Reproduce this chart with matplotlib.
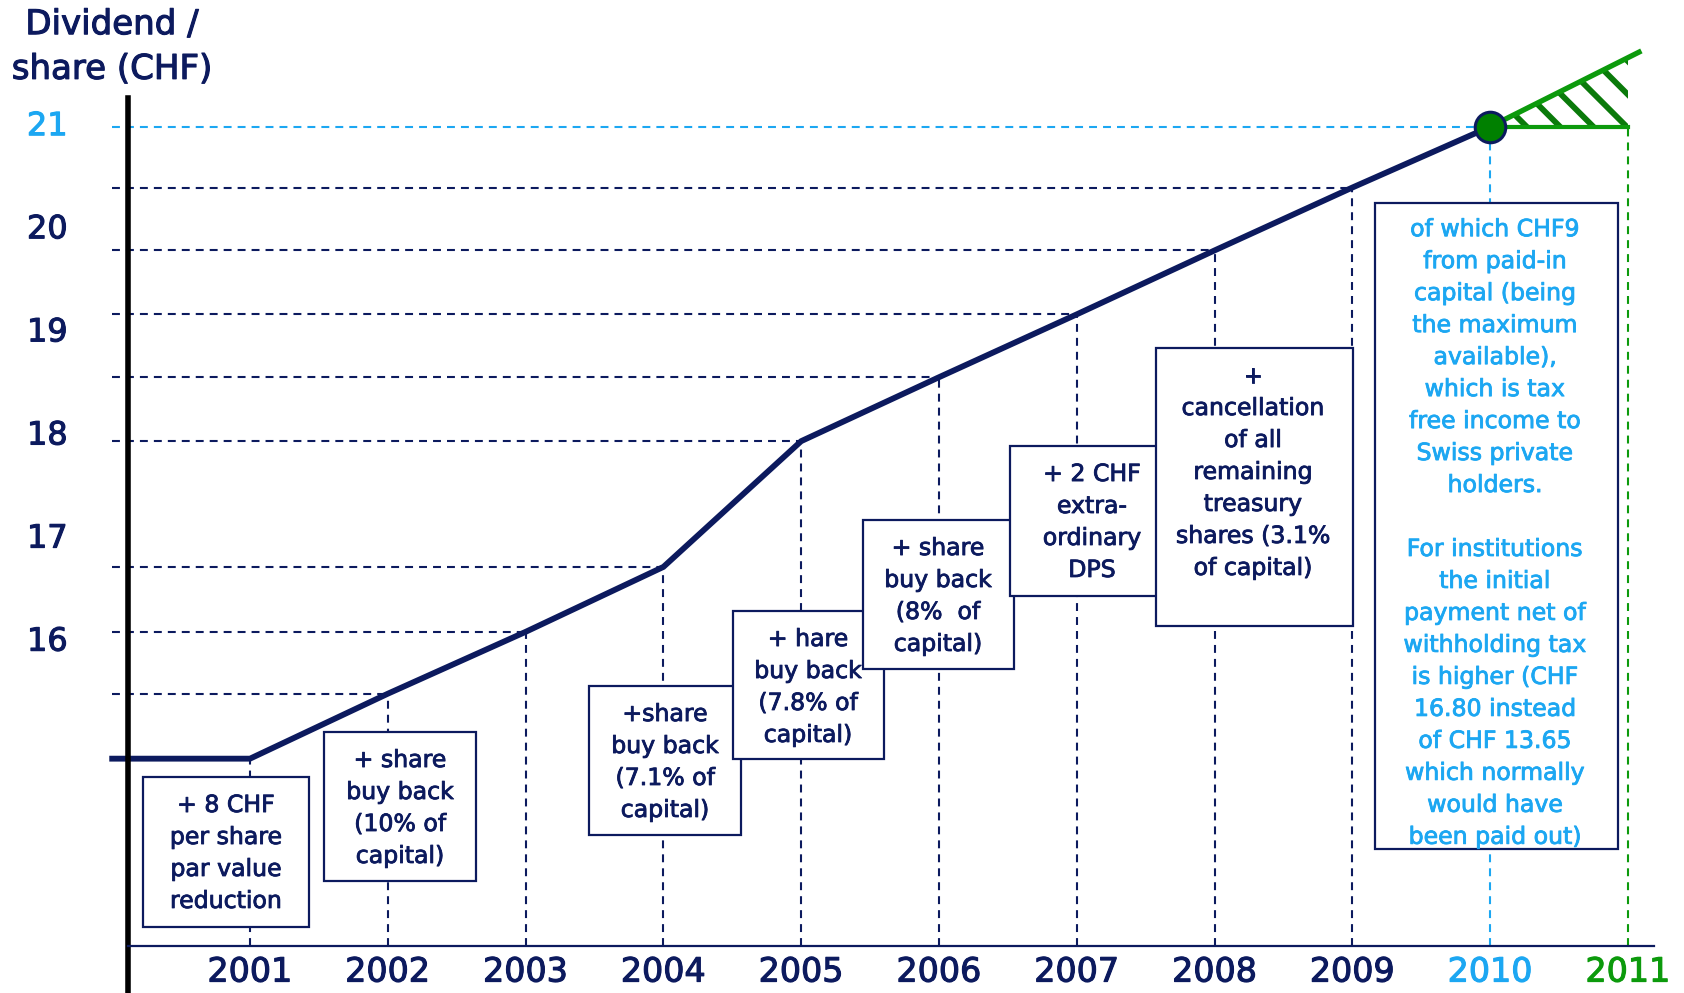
import matplotlib
matplotlib.use('Agg')
import matplotlib.pyplot as plt
import matplotlib.patheffects as pe
from matplotlib.patches import Rectangle, Polygon

# --- data ---
years = [2001, 2002, 2003, 2004, 2005, 2006, 2007, 2008, 2009, 2010]
dps = [14.87, 15.50, 16.10, 16.73, 17.95, 18.57, 19.18, 19.80, 20.41, 21.00]
flat_start = 2000          # flat segment before 2001
next_year = 2011
next_dps = 21.67           # green "upside" line at 2011
ytick_vals = [16, 17, 18, 19, 20, 21]
year_labels = [str(y) for y in years] + [str(next_year)]

axis_title = 'Dividend /\nshare (CHF)'
box_texts = [
    '+ 8 CHF\nper share\npar value\nreduction',
    '+ share\nbuy back\n(10% of\ncapital)',
    '+share\nbuy back\n(7.1% of\ncapital)',
    '+ hare\nbuy back\n(7.8% of\ncapital)',
    '+ share\nbuy back\n(8%  of\ncapital)',
    '+ 2 CHF\nextra-\nordinary\nDPS',
    '+\ncancellation\nof all\nremaining\ntreasury\nshares (3.1%\nof capital)',
]
note_text = ('of which CHF9\nfrom paid-in\ncapital (being\nthe maximum\navailable),\n'
             'which is tax\nfree income to\nSwiss private\nholders.\n\n'
             'For institutions\nthe initial\npayment net of\nwithholding tax\n'
             'is higher (CHF\n16.80 instead\nof CHF 13.65\nwhich normally\n'
             'would have\nbeen paid out)')

NAVY = '#0c1a5e'
LIGHT = '#1ca7f2'
GREEN = '#0c9a0c'
DKGREEN = '#0a7a0a'

W, H = 1684, 993
plt.rcParams['font.family'] = ['DejaVu Sans']
plt.rcParams['hatch.linewidth'] = 4.2

fig = plt.figure(figsize=(W / 100, H / 100), dpi=100)
ax = fig.add_axes([0, 0, 1, 1])
ax.set_xlim(1999.1858, 2011.4064)
ax.set_ylim(12.597, 22.229)
ax.axis('off')

x_axis_level = 13.056
y_axis_x = 2000.115


def fxy(px, py):
    # pixel position (top-left origin) -> figure fraction
    return px / W, 1 - py / H


def heavy(color, w=0.8):
    # thicken DejaVu a little so it looks like the original's heavier face
    return [pe.withStroke(linewidth=w, foreground=color)]


dash = (0, (3.8, 2.9))

# dashed guides
for y, v in zip(years[:-1], dps[:-1]):
    ax.plot([flat_start, y], [v, v], color=NAVY, lw=1.5, ls=dash, zorder=1)
    ax.plot([y, y], [x_axis_level, v], color=NAVY, lw=1.5, ls=dash, zorder=1)
ax.plot([flat_start, years[-1]], [dps[-1], dps[-1]], color=LIGHT, lw=1.5, ls=dash, zorder=1)
ax.plot([years[-1], years[-1]], [x_axis_level, dps[-1]], color=LIGHT, lw=1.5, ls=dash, zorder=1)
ax.plot([next_year, next_year], [x_axis_level, dps[-1]], color=GREEN, lw=1.5, ls=dash, zorder=1)

# main dividend line
ax.plot([flat_start] + years, [dps[0]] + dps, color=NAVY, lw=4.2, zorder=3,
        solid_joinstyle='miter')

# green upside wedge
slope = (next_dps - dps[-1]) / (next_year - years[-1])
ext = next_year + 0.08
ax.plot([years[-1], ext], [dps[-1], dps[-1] + slope * (ext - years[-1])], color=GREEN, lw=3.8, zorder=3)
ax.plot([years[-1], next_year], [dps[-1], dps[-1]], color=GREEN, lw=3.0, zorder=3)
wedge = Polygon([[years[-1], dps[-1]], [next_year, next_dps], [next_year, dps[-1]]],
                closed=True, fill=False, hatch='\\', edgecolor=DKGREEN, lw=0, zorder=2)
ax.add_patch(wedge)
ax.plot([years[-1]], [dps[-1]], 'o', ms=22, mfc='#008000', mec=NAVY, mew=2.2, zorder=6)

# axes
ax.plot([y_axis_x, y_axis_x], [12.597, 21.28], color='black', lw=4.0, zorder=4)
ax.plot([y_axis_x, 2011.19], [x_axis_level, x_axis_level], color=NAVY, lw=1.6, zorder=4)

for v in ytick_vals:
    c = LIGHT if v == 21 else NAVY
    ax.text(1999.53, v, str(v), ha='center', va='center', fontsize=23, color=c,
            path_effects=heavy(c))
for lab in year_labels:
    yr = int(lab)
    c = NAVY
    if yr == years[-1]:
        c = LIGHT
    elif yr == next_year:
        c = GREEN
    ax.text(yr, 12.80, lab, ha='center', va='center', fontsize=24, color=c,
            path_effects=heavy(c))

fig.text(*fxy(112, 47), axis_title, ha='center', va='center', fontsize=24.5,
         color=NAVY, linespacing=1.45, path_effects=heavy(NAVY))

# annotation boxes (pixel layout)
boxes = [(143, 777, 309, 927), (324, 732, 476, 881), (589, 686, 741, 835),
         (733, 611, 884, 759), (863, 520, 1014, 669), (1010, 446, 1157, 596),
         (1156, 348, 1353, 626)]
centers = [(226, 853), (400, 808), (665, 762), (808, 687), (938, 596),
           (1092, 522), (1253, 472)]

z = 7
for (x0, y0, x1, y1), (cx, cy), txt in zip(boxes, centers, box_texts):
    fx0, fy1 = fxy(x0, y1)
    fx1, fy0 = fxy(x1, y0)
    ax.add_patch(Rectangle((fx0, fy1), fx1 - fx0, fy0 - fy1, transform=fig.transFigure,
                           facecolor='white', edgecolor=NAVY, lw=1.6, zorder=z, clip_on=False))
    ax.text(*fxy(cx, cy), txt, transform=fig.transFigure, ha='center', va='center',
            fontsize=17, color=NAVY, linespacing=1.42, zorder=z + 1,
            path_effects=heavy(NAVY, 0.6))
    z += 2

fx0, fy1 = fxy(1375, 849)
fx1, fy0 = fxy(1618, 203)
ax.add_patch(Rectangle((fx0, fy1), fx1 - fx0, fy0 - fy1, transform=fig.transFigure,
                       facecolor='white', edgecolor=NAVY, lw=1.6, zorder=z, clip_on=False))
ax.text(*fxy(1495, 533), note_text, transform=fig.transFigure, ha='center', va='center',
        fontsize=17, color=LIGHT, linespacing=1.42, zorder=z + 1,
        path_effects=heavy(LIGHT, 0.6))

fig.savefig('out.png', dpi=100)
